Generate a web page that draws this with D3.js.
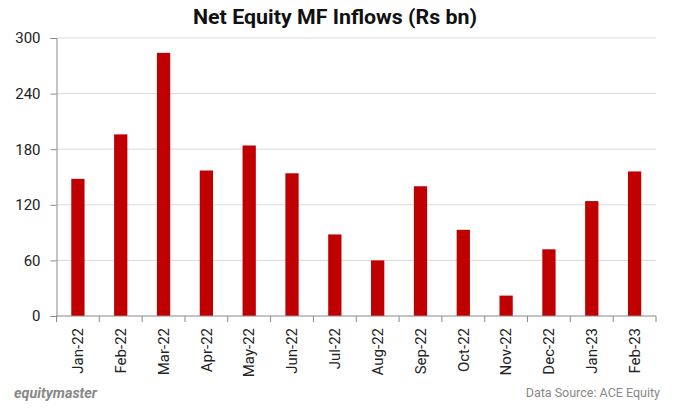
<!DOCTYPE html>
<html><head><meta charset="utf-8">
<script src="https://cdn.jsdelivr.net/npm/d3@7"></script>
<style>body{margin:0;background:#fff}svg{display:block}</style>
</head><body>
<svg id="c" width="675" height="410"></svg>
<script>
const categories = ["Jan-22","Feb-22","Mar-22","Apr-22","May-22","Jun-22","Jul-22","Aug-22","Sep-22","Oct-22","Nov-22","Dec-22","Jan-23","Feb-23"];
const inflows = [148,196,284,157,184,154,88,60,140,93,22,72,124,156];
const yTicks = [0,60,120,180,240,300];

const svg = d3.select("#c");
const m = {l:56.5, r:656, t:38, b:316};
const x = d3.scaleBand().domain(categories).range([m.l, m.r]).paddingInner(0.69).paddingOuter(0.345);
const y = d3.scaleLinear().domain([0,300]).range([m.b, m.t]);
const font = "Roboto, 'Liberation Sans', sans-serif";

svg.append("text").attr("x", 335).attr("y", 24).attr("text-anchor","middle")
  .attr("font-family", font).attr("font-weight", 700).attr("font-size", 21)
  .attr("fill", "#111").attr("textLength", 284).attr("lengthAdjust","spacingAndGlyphs")
  .text("Net Equity MF Inflows (Rs bn)");

// gridlines
svg.append("g").selectAll("line").data(yTicks.slice(1)).join("line")
  .attr("x1", m.l).attr("x2", m.r).attr("y1", d=>y(d)).attr("y2", d=>y(d))
  .attr("stroke", "#d9d9d9").attr("stroke-width", 1);

// bars
svg.append("g").selectAll("rect").data(inflows).join("rect")
  .attr("x", (d,i)=>x(categories[i])).attr("width", x.bandwidth())
  .attr("y", d=>y(d)).attr("height", d=>y(0)-y(d)).attr("fill", "#c00000");

// y axis
const ya = svg.append("g").attr("transform", `translate(${m.l},0)`)
  .call(d3.axisLeft(y).tickValues(yTicks).tickSize(6).tickPadding(10));
ya.select(".domain").attr("stroke", "#888");
ya.selectAll(".tick line").attr("stroke", "#888");
ya.selectAll("text").attr("font-family", font).attr("font-size", 15).attr("fill", "#222");

// x axis
const xa = svg.append("g").attr("transform", `translate(0,${m.b})`)
  .call(d3.axisBottom(x).tickSize(0).tickPadding(0));
xa.select(".domain").attr("stroke", "#888").attr("d", `M${m.l},0H${m.r}`);
xa.selectAll(".tick line").remove();
svg.append("g").selectAll("line").data(d3.range(categories.length+1)).join("line")
  .attr("x1", i=>m.l + i*(m.r-m.l)/categories.length).attr("x2", i=>m.l + i*(m.r-m.l)/categories.length)
  .attr("y1", m.b).attr("y2", m.b+6).attr("stroke", "#888");
xa.selectAll(".tick text")
  .attr("transform", "rotate(-90)").attr("text-anchor", "end")
  .attr("x", -12).attr("y", 0).attr("dy", "0.35em")
  .attr("font-family", font).attr("font-size", 15).attr("fill", "#222");

svg.append("text").attr("x", 14).attr("y", 398)
  .attr("font-family", font).attr("font-weight", 700).attr("font-style", "italic")
  .attr("font-size", 15).attr("fill", "#888").attr("textLength", 83).attr("lengthAdjust","spacingAndGlyphs")
  .text("equitymaster");
svg.append("text").attr("x", 660).attr("y", 397).attr("text-anchor", "end")
  .attr("font-family", font).attr("font-size", 12.5).attr("fill", "#888").text("Data Source:  ACE Equity");
</script>
</body></html>
